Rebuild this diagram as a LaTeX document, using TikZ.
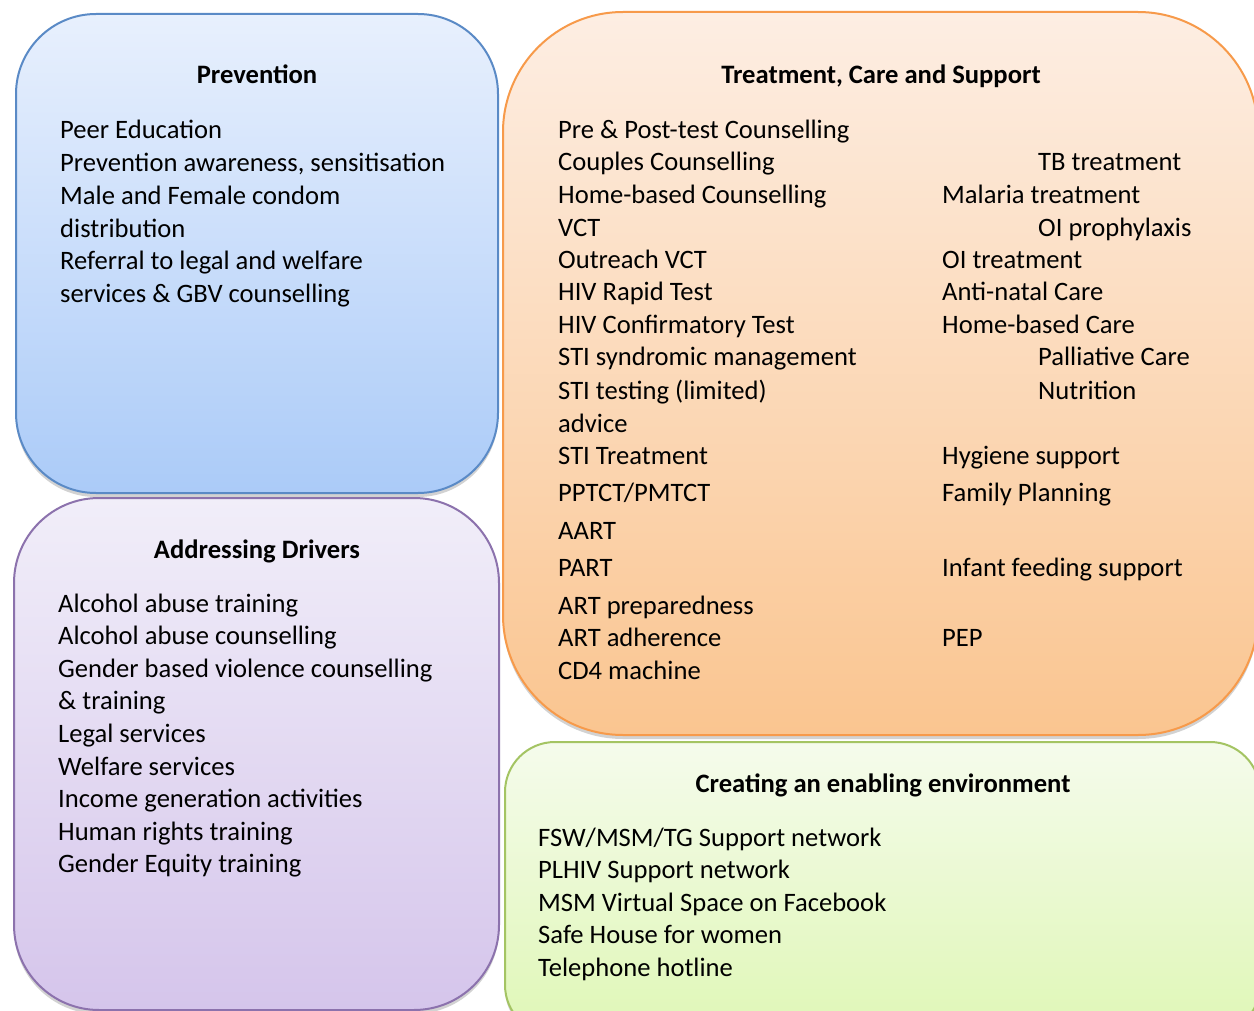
\documentclass[tikz,border=0pt]{standalone}
\usepackage{fontspec}
\setmainfont{Carlito}
\usetikzlibrary{shadows}

\definecolor{prevtop}{HTML}{E8F0FD}
\definecolor{prevbot}{HTML}{ABCBF8}
\definecolor{prevline}{HTML}{5A8AC6}
\definecolor{drvtop}{HTML}{F1EEF9}
\definecolor{drvbot}{HTML}{D5C5EB}
\definecolor{drvline}{HTML}{8C72AD}
\definecolor{trttop}{HTML}{FDEEE3}
\definecolor{trtbot}{HTML}{FAC590}
\definecolor{trtline}{HTML}{F79A4A}
\definecolor{envtop}{HTML}{F5FBEC}
\definecolor{envbot}{HTML}{DFF7B6}
\definecolor{envline}{HTML}{A4C463}

\newcommand{\bodyfont}{\fontsize{26.6}{32.6}\selectfont}

\tikzset{
  panel/.style={draw, line width=2pt, inner sep=0pt,
    drop shadow={shadow xshift=0pt, shadow yshift=-4pt, opacity=0.35}},
  head/.style={anchor=base, inner sep=0pt, font=\bodyfont\bfseries},
  item/.style={anchor=base west, inner sep=0pt, font=\bodyfont}
}

\begin{document}
\begin{tikzpicture}[x=1pt,y=-1pt]
\useasboundingbox (0,0) rectangle (1254,1011);
\fill[white] (0,0) rectangle (1254,1011);
\clip (0,0) rectangle (1254,1011);

% the four panels
\node[panel, draw=prevline, top color=prevtop, bottom color=prevbot,
  rounded corners=80pt, minimum width=482pt, minimum height=479pt] (prev) at (257,253.5) {};
\node[panel, draw=drvline, top color=drvtop, bottom color=drvbot,
  rounded corners=85pt, minimum width=485pt, minimum height=512pt] (drv) at (256.5,754) {};
\node[panel, draw=trtline, top color=trttop, bottom color=trtbot,
  rounded corners=120pt, minimum width=755pt, minimum height=723pt] (trt) at (880.5,373.5) {};
\node[panel, draw=envline, top color=envtop, bottom color=envbot,
  rounded corners=50pt, minimum width=755pt, minimum height=293pt] (env) at (882.5,888.5) {};

% Prevention
\node[head] (prevhead) at (257,84) {Prevention};
\foreach \t [count=\i] in {Peer Education, {Prevention awareness, sensitisation},
    Male and Female condom, distribution, Referral to legal and welfare,
    services \& GBV counselling}
  \node[item] (prev-\i) at (60,{139+32.7*(\i-1)}) {\t};

% Addressing Drivers
\node[head] (drvhead) at (257,558) {Addressing Drivers};
\foreach \t [count=\i] in {Alcohol abuse training, Alcohol abuse counselling,
    Gender based violence counselling, \& training, Legal services,
    Welfare services, Income generation activities, Human rights training,
    Gender Equity training}
  \node[item] (drv-\i) at (58,{612+32.6*(\i-1)}) {\t};

% Treatment, Care and Support
\node[head] (trthead) at (881,84) {Treatment, Care and Support};
\foreach \y/\t [count=\i] in {139/Pre \& Post-test Counselling, 171/Couples Counselling,
    204/Home-based Counselling, 237/VCT, 269/Outreach VCT, 301/HIV Rapid Test,
    334/HIV Confirmatory Test, 366/STI syndromic management,
    399/STI testing (limited), 432/advice, 464/STI Treatment, 501/{PPTCT/PMTCT},
    539/AART, 576/PART, 614/ART preparedness, 646/ART adherence, 679/CD4 machine}
  \node[item] (trtl-\i) at (558,\y) {\t};
\foreach \x/\y/\t [count=\i] in {1038/171/TB treatment, 942/204/Malaria treatment,
    1038/237/OI prophylaxis, 942/269/OI treatment, 942/301/Anti-natal Care,
    942/334/Home-based Care, 1038/366/Palliative Care, 1038/399/Nutrition,
    942/464/Hygiene support, 942/501/Family Planning,
    942/576/Infant feeding support, 942/646/PEP}
  \node[item] (trtr-\i) at (\x,\y) {\t};

% Creating an enabling environment
\node[head] (envhead) at (883,792) {Creating an enabling environment};
\foreach \t [count=\i] in {FSW/MSM/TG Support network, PLHIV Support network,
    MSM Virtual Space on Facebook, Safe House for women, Telephone hotline}
  \node[item] (env-\i) at (538,{846+32.6*(\i-1)}) {\t};
\end{tikzpicture}
\end{document}
